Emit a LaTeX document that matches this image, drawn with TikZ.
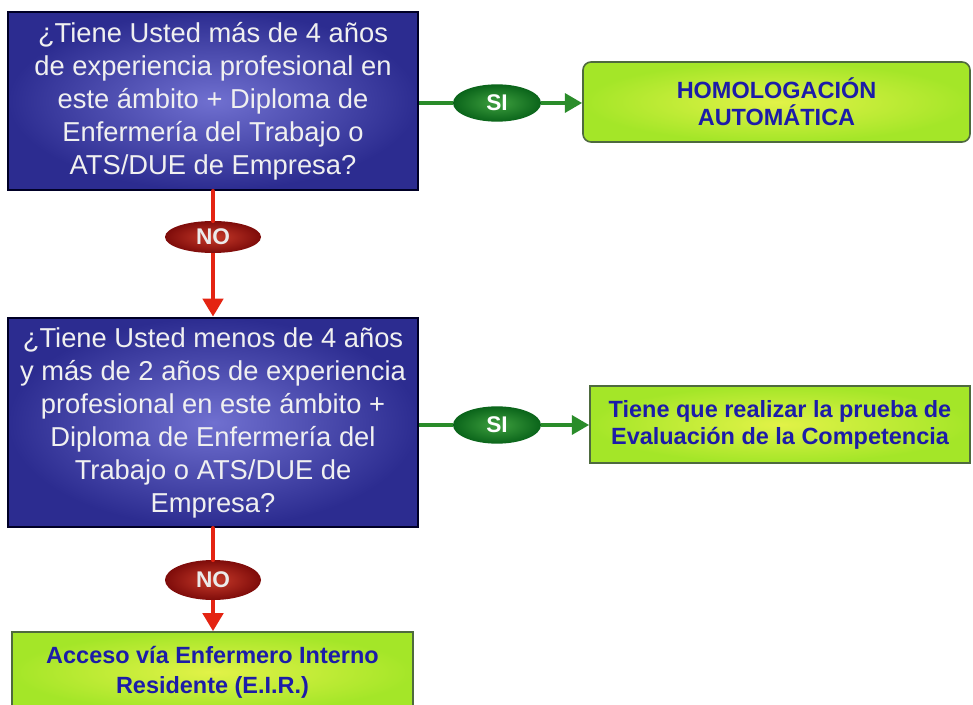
\documentclass[tikz,border=0pt]{standalone}
\usepackage{fontspec}
\setmainfont{Liberation Sans}
\usetikzlibrary{shapes.geometric,arrows.meta}
\definecolor{azulfondo}{HTML}{2C2C90}
\definecolor{azulclaro}{HTML}{7070D0}
\definecolor{verdefondo}{HTML}{A4E628}
\definecolor{verdeclaro}{HTML}{E2F248}
\definecolor{verdeborde}{HTML}{4E6A3E}
\definecolor{textoazul}{HTML}{1C1CA8}
\definecolor{verdeosc}{HTML}{0A641A}
\definecolor{verdemed}{HTML}{3FA03F}
\definecolor{rojoosc}{HTML}{7E0C0A}
\definecolor{rojomed}{HTML}{C83A2A}
\definecolor{rojolinea}{HTML}{E42412}
\definecolor{verdelinea}{HTML}{2A8C2A}
\begin{document}
\begin{tikzpicture}[x=0.75pt,y=-0.75pt,
  pregunta/.style={draw=black!85!blue,line width=2pt,shading=radial,
    inner color=azulclaro,outer color=azulfondo,text=white!94!black,
    align=center,inner sep=0pt,minimum width=307.5pt,
    font=\fontsize{20.5}{24.75}\selectfont},
  respuesta/.style={draw=verdeborde,line width=1.2pt,shading=radial,
    inner color=verdeclaro,outer color=verdefondo,text=textoazul,
    align=center,inner sep=0pt,font=\fontsize{17.6}{20.25}\selectfont\bfseries},
  sibox/.style={ellipse,shading=radial,inner color=verdemed,outer color=verdeosc,
    text=white,inner sep=0pt,minimum width=66pt,minimum height=28pt,
    font=\fontsize{17}{19}\selectfont\bfseries},
  nobox/.style={ellipse,shading=radial,inner color=rojomed,outer color=rojoosc,
    text=white!92!black,inner sep=0pt,minimum width=72pt,
    font=\fontsize{17}{19}\selectfont\bfseries},
  flechasi/.style={draw=verdelinea,line width=3.2pt,-{Triangle[length=13pt,width=14pt]}},
  flechano/.style={draw=rojolinea,line width=3.6pt,-{Triangle[length=13.5pt,width=15pt]}},
  lineasi/.style={draw=verdelinea,line width=3.2pt},
  lineano/.style={draw=rojolinea,line width=3.6pt,line cap=round}]
\useasboundingbox[fill=white] (0,0) rectangle (973,705);

% preguntas
\node[pregunta,minimum height=133.5pt] (p1) at (213,101)
  {¿Tiene Usted más de 4 años\\de experiencia profesional en\\este ámbito + Diploma de\\Enfermería del Trabajo o\\ATS/DUE de Empresa?};
\node[pregunta,minimum height=156.75pt] (p2) at (213,422.5)
  {¿Tiene Usted menos de 4 años\\y más de 2 años de experiencia\\profesional en este ámbito +\\Diploma de Enfermería del\\Trabajo o ATS/DUE de\\Empresa?};

% resultados
\node[respuesta,rounded corners=6pt,minimum width=290.25pt,minimum height=60pt] (r1) at (776.5,102)
  {HOMOLOGACIÓN\\AUTOMÁTICA};
\node[respuesta,minimum width=285pt,minimum height=57.75pt] (r2) at (780,424.5)
  {Tiene que realizar la prueba de\\Evaluación de la Competencia};
\node[respuesta,minimum width=300.75pt,minimum height=60pt,
  font=\fontsize{17.6}{22.5}\selectfont\bfseries] (r3) at (212.5,672)
  {Acceso vía Enfermero Interno\\Residente (E.I.R.)};

% etiquetas SI / NO
\node[sibox] (si1) at (497,103) {SI};
\node[sibox] (si2) at (497,425) {SI};
\node[nobox,minimum height=24pt] (no1) at (213,237) {NO};
\node[nobox,minimum height=30pt] (no2) at (213,580) {NO};

% flechas
\draw[lineasi] (si1 -| p1.east) -- (si1.west);
\draw[flechasi] (si1.east) -- (si1 -| r1.west);
\draw[lineasi] (si2 -| p2.east) -- (si2.west);
\draw[flechasi] (si2.east) -- (si2 -| r2.west);
\draw[lineano] (p1.south) -- (no1.north);
\draw[flechano] (no1.south) -- (p2.north);
\draw[lineano] (p2.south) -- (no2.north);
\draw[flechano] (no2.south) -- (no2 |- r3.north);
\end{tikzpicture}
\end{document}
